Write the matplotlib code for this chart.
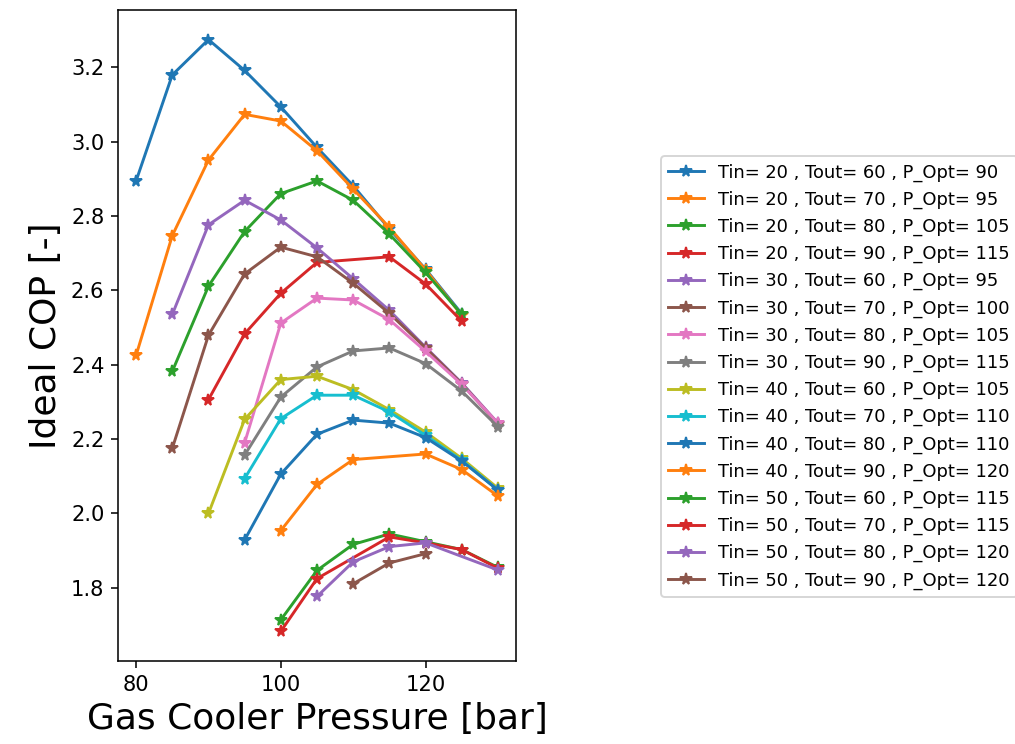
import matplotlib
matplotlib.use("Agg")
import matplotlib.pyplot as plt
from matplotlib.ticker import MultipleLocator

# Series definitions (Tin, Tout, P_Opt)
tin_values = [20, 20, 20, 20, 30, 30, 30, 30, 40, 40, 40, 40, 50, 50, 50, 50]
tout_values = [60, 70, 80, 90, 60, 70, 80, 90, 60, 70, 80, 90, 60, 70, 80, 90]
p_opt_values = [90, 95, 105, 115, 95, 100, 105, 115, 105, 110, 110, 120, 115, 115, 120, 120]

# Gas cooler pressures [bar] per series
p_s1 = [80, 85, 90, 95, 100, 105, 110, 115, 120, 125]
p_s2 = [80, 85, 90, 95, 100, 105, 110, 115, 120, 125]
p_s3 = [85, 90, 95, 100, 105, 110, 115, 120, 125]
p_s4 = [90, 95, 100, 105, 115, 120, 125]
p_s5 = [85, 90, 95, 100, 105, 110, 115, 120, 125, 130]
p_s6 = [85, 90, 95, 100, 105, 110, 115, 120, 125, 130]
p_s7 = [95, 100, 105, 110, 115, 120, 125, 130]
p_s8 = [95, 100, 105, 110, 115, 120, 125, 130]
p_s9 = [90, 95, 100, 105, 110, 115, 120, 125, 130]
p_s10 = [95, 100, 105, 110, 115, 120, 125, 130]
p_s11 = [95, 100, 105, 110, 115, 120, 125, 130]
p_s12 = [100, 105, 110, 120, 125, 130]
p_s13 = [100, 105, 110, 115, 120, 125, 130]
p_s14 = [100, 105, 115, 120, 125, 130]
p_s15 = [105, 110, 115, 120, 130]
p_s16 = [110, 115, 120]

# Ideal COP per series
cop_s1 = [2.894, 3.179, 3.274, 3.191, 3.093, 2.984, 2.881, 2.765, 2.657, 2.537]
cop_s2 = [2.425, 2.747, 2.950, 3.073, 3.055, 2.975, 2.872, 2.769, 2.655, 2.533]
cop_s3 = [2.382, 2.611, 2.758, 2.860, 2.894, 2.842, 2.751, 2.648, 2.535]
cop_s4 = [2.306, 2.483, 2.592, 2.675, 2.690, 2.617, 2.517]
cop_s5 = [2.535, 2.776, 2.842, 2.789, 2.714, 2.631, 2.546, 2.447, 2.351, 2.243]
cop_s6 = [2.175, 2.479, 2.644, 2.716, 2.690, 2.619, 2.538, 2.445, 2.349, 2.241]
cop_s7 = [2.190, 2.512, 2.579, 2.574, 2.521, 2.436, 2.347, 2.243]
cop_s8 = [2.157, 2.313, 2.394, 2.437, 2.445, 2.403, 2.329, 2.233]
cop_s9 = [2.000, 2.253, 2.360, 2.369, 2.333, 2.279, 2.219, 2.148, 2.068]
cop_s10 = [2.094, 2.255, 2.318, 2.318, 2.273, 2.210, 2.143, 2.063]
cop_s11 = [1.929, 2.106, 2.213, 2.251, 2.243, 2.204, 2.141, 2.063]
cop_s12 = [1.954, 2.078, 2.145, 2.160, 2.118, 2.047]
cop_s13 = [1.714, 1.847, 1.917, 1.945, 1.924, 1.903, 1.855]
cop_s14 = [1.683, 1.825, 1.937, 1.921, 1.903, 1.853]
cop_s15 = [1.777, 1.870, 1.911, 1.921, 1.848]
cop_s16 = [1.811, 1.867, 1.892]

pressures = [p_s1, p_s2, p_s3, p_s4, p_s5, p_s6, p_s7, p_s8,
             p_s9, p_s10, p_s11, p_s12, p_s13, p_s14, p_s15, p_s16]
cops = [cop_s1, cop_s2, cop_s3, cop_s4, cop_s5, cop_s6, cop_s7, cop_s8,
        cop_s9, cop_s10, cop_s11, cop_s12, cop_s13, cop_s14, cop_s15, cop_s16]

DPI = 140
fig = plt.figure(figsize=(1015 / DPI, 744 / DPI), dpi=DPI)
ax = fig.add_axes([118 / 1015, 1 - 661 / 744, (516 - 118) / 1015, (661 - 10) / 744])

for tin, tout, popt, x, y in zip(tin_values, tout_values, p_opt_values, pressures, cops):
    ax.plot(x, y, marker="*", label=f"Tin= {tin} , Tout= {tout} , P_Opt= {popt}")

ax.xaxis.set_major_locator(MultipleLocator(20))
ax.tick_params(labelsize=10.8)
ax.set_xlabel("Gas Cooler Pressure [bar]", fontsize=18.5)
ax.set_ylabel("Ideal COP [-]", fontsize=18.5)

fig.legend(loc="center left", bbox_to_anchor=(661 / 1015, 1 - 376.5 / 744),
           borderaxespad=0, fontsize=9.2)

fig.savefig("out.png", dpi=DPI)
